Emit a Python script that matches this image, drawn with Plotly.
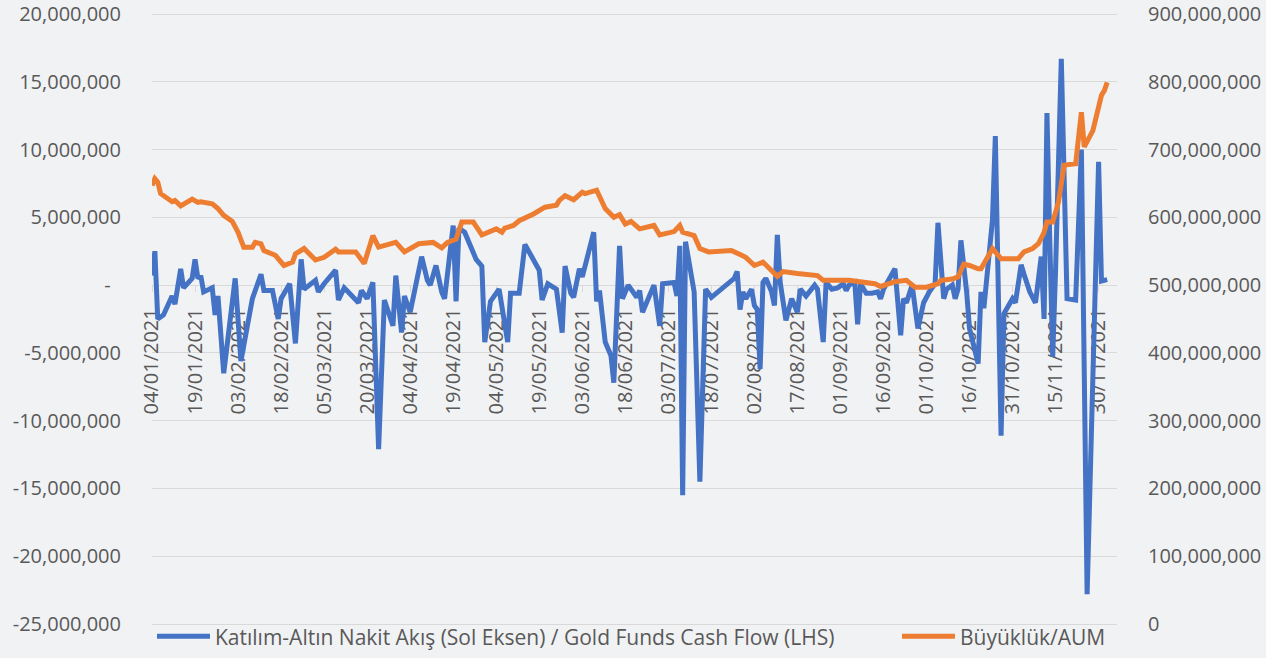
import plotly.graph_objects as go

# ---------------- data ----------------
flow_dates = [
    "2021-01-04", "2021-01-05", "2021-01-06", "2021-01-08", "2021-01-11", "2021-01-12", "2021-01-14", "2021-01-15",
    "2021-01-18", "2021-01-19", "2021-01-20", "2021-01-21", "2021-01-22", "2021-01-25", "2021-01-26", "2021-01-27",
    "2021-01-29", "2021-02-02", "2021-02-04", "2021-02-08", "2021-02-11", "2021-02-12", "2021-02-15", "2021-02-17",
    "2021-02-18", "2021-02-21", "2021-02-23", "2021-02-25", "2021-02-26", "2021-03-02", "2021-03-03", "2021-03-05",
    "2021-03-09", "2021-03-10", "2021-03-12", "2021-03-15", "2021-03-17", "2021-03-18", "2021-03-20", "2021-03-22",
    "2021-03-24", "2021-03-26", "2021-03-29", "2021-03-30", "2021-04-01", "2021-04-02", "2021-04-04", "2021-04-08",
    "2021-04-10", "2021-04-11", "2021-04-13", "2021-04-15", "2021-04-16", "2021-04-19", "2021-04-20", "2021-04-21",
    "2021-04-23", "2021-04-27", "2021-04-29", "2021-04-30", "2021-05-02", "2021-05-05", "2021-05-08", "2021-05-09",
    "2021-05-12", "2021-05-14", "2021-05-19", "2021-05-20", "2021-05-22", "2021-05-25", "2021-05-27", "2021-05-28",
    "2021-05-30", "2021-05-31", "2021-06-02", "2021-06-03", "2021-06-07", "2021-06-08", "2021-06-09", "2021-06-11",
    "2021-06-13", "2021-06-14", "2021-06-16", "2021-06-17", "2021-06-19", "2021-06-22", "2021-06-23", "2021-06-24",
    "2021-06-28", "2021-06-30", "2021-07-01", "2021-07-05", "2021-07-06", "2021-07-07", "2021-07-08", "2021-07-09",
    "2021-07-12", "2021-07-14", "2021-07-16", "2021-07-18", "2021-07-26", "2021-07-27", "2021-07-28", "2021-07-29",
    "2021-07-30", "2021-08-01", "2021-08-02", "2021-08-03", "2021-08-04", "2021-08-05", "2021-08-06", "2021-08-08",
    "2021-08-09", "2021-08-10", "2021-08-11", "2021-08-13", "2021-08-14", "2021-08-15", "2021-08-17", "2021-08-18",
    "2021-08-20", "2021-08-22", "2021-08-23", "2021-08-24", "2021-08-26", "2021-08-27", "2021-08-29", "2021-08-31",
    "2021-09-02", "2021-09-03", "2021-09-04", "2021-09-06", "2021-09-07", "2021-09-08", "2021-09-10", "2021-09-12",
    "2021-09-14", "2021-09-15", "2021-09-16", "2021-09-20", "2021-09-22", "2021-09-23", "2021-09-24", "2021-09-26",
    "2021-09-27", "2021-09-28", "2021-09-30", "2021-10-02", "2021-10-04", "2021-10-05", "2021-10-07", "2021-10-08",
    "2021-10-10", "2021-10-11", "2021-10-12", "2021-10-13", "2021-10-15", "2021-10-16", "2021-10-19", "2021-10-20",
    "2021-10-21", "2021-10-23", "2021-10-24", "2021-10-25", "2021-10-27", "2021-10-28", "2021-10-30", "2021-10-31",
    "2021-11-01", "2021-11-03", "2021-11-04", "2021-11-05", "2021-11-06", "2021-11-08", "2021-11-10", "2021-11-11",
    "2021-11-12", "2021-11-13", "2021-11-14", "2021-11-15", "2021-11-17", "2021-11-19", "2021-11-22", "2021-11-24",
    "2021-11-26", "2021-11-30", "2021-12-01", "2021-12-03",
]
cash_flow = [
    0.7e6, 2.5e6, -2.5e6, -2.2e6, -0.8e6, -1.4e6, 1.2e6, -0.2e6,
    0.5e6, 1.9e6, 0.5e6, 0.7e6, -0.5e6, -0.2e6, -2.2e6, -0.8e6,
    -6.5e6, 0.5e6, -5.6e6, -1.0e6, 0.8e6, -0.4e6, -0.4e6, -2.5e6,
    -1.0e6, 0.1e6, -4.3e6, 1.9e6, -0.3e6, 0.35e6, -0.5e6, 0.1e6,
    1.1e6, -1.1e6, -0.2e6, -0.8e6, -1.3e6, -0.4e6, -1.0e6, 0.2e6,
    -12.1e6, -1.1e6, -3.0e6, 0.7e6, -3.5e6, -0.8e6, -2.0e6, 2.1e6,
    0.35e6, 0.0, 1.45e6, -0.5e6, -1.0e6, 4.4e6, -1.2e6, 4.2e6,
    3.9e6, 1.9e6, 1.4e6, -4.2e6, -1.2e6, -0.3e6, -4.2e6, -0.6e6,
    -0.6e6, 3.0e6, 1.1e6, -1.1e6, 0.1e6, -0.3e6, -3.5e6, 1.4e6,
    -0.6e6, -0.9e6, 1.2e6, 0.6e6, 3.9e6, -1.2e6, -0.4e6, -4.2e6,
    -5.2e6, -7.2e6, 2.9e6, -1.0e6, 0.0, -0.9e6, -0.4e6, -2.0e6,
    0.0, -3.0e6, 0.1e6, 0.2e6, -0.8e6, 2.9e6, -15.5e6, 3.2e6,
    -0.5e6, -14.5e6, -0.3e6, -0.9e6, 0.5e6, 1.0e6, -1.8e6, -0.5e6,
    -1.0e6, -0.3e6, -1.5e6, -1.8e6, -6.2e6, 0.2e6, 0.5e6, -0.5e6,
    -1.5e6, 3.7e6, 0.2e6, -2.6e6, -1.8e6, -1.0e6, -2.0e6, -0.3e6,
    -0.8e6, -0.3e6, 0.0, -0.3e6, -4.2e6, 0.2e6, -0.3e6, -0.2e6,
    0.1e6, -0.4e6, 0.0, 0.2e6, -2.9e6, 0.1e6, -0.6e6, -0.6e6,
    -0.5e6, -1.0e6, -0.3e6, 1.2e6, -3.7e6, -1.0e6, -1.3e6, 0.0,
    -1.8e6, -3.2e6, -1.3e6, -0.5e6, 0.1e6, 4.6e6, -1.0e6, -0.3e6,
    0.0, -1.0e6, -0.3e6, 3.3e6, -0.5e6, -3.2e6, -5.8e6, -0.5e6,
    -1.7e6, 2.1e6, 4.8e6, 11.0e6, -11.1e6, -2.1e6, -1.3e6, -1.0e6,
    -1.3e6, 1.5e6, 0.8e6, 0.0, -0.5e6, -1.3e6, 2.1e6, -2.5e6,
    12.7e6, 3.2e6, -5.3e6, 1.1e6, 16.7e6, -1.0e6, -1.1e6, 10.0e6,
    -22.8e6, 9.1e6, 0.3e6, 0.4e6,
]

aum_dates = [
    "2021-01-04", "2021-01-05", "2021-01-06", "2021-01-07", "2021-01-11", "2021-01-12", "2021-01-14", "2021-01-18",
    "2021-01-20", "2021-01-21", "2021-01-25", "2021-01-27", "2021-01-29", "2021-02-01", "2021-02-03", "2021-02-05",
    "2021-02-08", "2021-02-09", "2021-02-11", "2021-02-12", "2021-02-16", "2021-02-19", "2021-02-22", "2021-02-23",
    "2021-02-26", "2021-03-02", "2021-03-05", "2021-03-09", "2021-03-10", "2021-03-16", "2021-03-19", "2021-03-22",
    "2021-03-24", "2021-03-30", "2021-04-02", "2021-04-07", "2021-04-12", "2021-04-15", "2021-04-17", "2021-04-20",
    "2021-04-22", "2021-04-26", "2021-04-29", "2021-05-04", "2021-05-06", "2021-05-07", "2021-05-10", "2021-05-12",
    "2021-05-17", "2021-05-21", "2021-05-25", "2021-05-26", "2021-05-28", "2021-05-31", "2021-06-03", "2021-06-04",
    "2021-06-08", "2021-06-11", "2021-06-14", "2021-06-16", "2021-06-18", "2021-06-20", "2021-06-23", "2021-06-28",
    "2021-06-30", "2021-07-05", "2021-07-07", "2021-07-08", "2021-07-12", "2021-07-14", "2021-07-17", "2021-07-25",
    "2021-07-28", "2021-07-30", "2021-08-02", "2021-08-05", "2021-08-10", "2021-08-12", "2021-08-17", "2021-08-24",
    "2021-08-26", "2021-09-04", "2021-09-13", "2021-09-15", "2021-09-20", "2021-09-24", "2021-09-27", "2021-10-01",
    "2021-10-05", "2021-10-06", "2021-10-10", "2021-10-12", "2021-10-14", "2021-10-16", "2021-10-19", "2021-10-20",
    "2021-10-22", "2021-10-24", "2021-10-27", "2021-11-02", "2021-11-04", "2021-11-07", "2021-11-09", "2021-11-11",
    "2021-11-12", "2021-11-14", "2021-11-16", "2021-11-18", "2021-11-22", "2021-11-24", "2021-11-25", "2021-11-28",
    "2021-12-01", "2021-12-02", "2021-12-03",
]
aum = [
    647e6, 657e6, 652e6, 635e6, 623e6, 625e6, 617e6, 627e6,
    622e6, 623e6, 620e6, 613e6, 603e6, 594e6, 578e6, 556e6,
    556e6, 563e6, 561e6, 551e6, 544e6, 529e6, 534e6, 546e6,
    554e6, 537e6, 541e6, 553e6, 549e6, 549e6, 532e6, 573e6,
    556e6, 563e6, 549e6, 561e6, 563e6, 555e6, 563e6, 568e6,
    593e6, 593e6, 574e6, 583e6, 578e6, 584e6, 588e6, 595e6,
    605e6, 615e6, 618e6, 625e6, 632e6, 626e6, 637e6, 635e6,
    640e6, 613e6, 600e6, 604e6, 590e6, 594e6, 583e6, 588e6,
    574e6, 579e6, 588e6, 578e6, 573e6, 554e6, 549e6, 551e6,
    545e6, 541e6, 529e6, 534e6, 513e6, 520e6, 517e6, 514e6,
    507e6, 507e6, 502e6, 498e6, 505e6, 507e6, 497e6, 497e6,
    502e6, 507e6, 509e6, 512e6, 531e6, 529e6, 524e6, 524e6,
    539e6, 554e6, 539e6, 539e6, 549e6, 554e6, 561e6, 578e6,
    593e6, 593e6, 622e6, 677e6, 679e6, 755e6, 704e6, 728e6,
    780e6, 787e6, 799e6,
]

x_tick_dates = [
    "2021-01-04", "2021-01-19", "2021-02-03", "2021-02-18", "2021-03-05", "2021-03-20",
    "2021-04-04", "2021-04-19", "2021-05-04", "2021-05-19", "2021-06-03", "2021-06-18",
    "2021-07-03", "2021-07-18", "2021-08-02", "2021-08-17", "2021-09-01", "2021-09-16",
    "2021-10-01", "2021-10-16", "2021-10-31", "2021-11-15", "2021-11-30",
]
left_tick_values = [20e6, 15e6, 10e6, 5e6, 0, -5e6, -10e6, -15e6, -20e6, -25e6]
left_tick_labels = ["20,000,000", "15,000,000", "10,000,000", "5,000,000", "-\u00a0\u00a0",
                    "-5,000,000", "-10,000,000", "-15,000,000", "-20,000,000", "-25,000,000"]
right_tick_values = [0, 100e6, 200e6, 300e6, 400e6, 500e6, 600e6, 700e6, 800e6, 900e6]

series_names = ["Katılım-Altın Nakit Akış (Sol Eksen) / Gold Funds Cash Flow (LHS)", "Büyüklük/AUM"]

# ---------------- figure ----------------
FONT = "Open Sans"
TXT = "#595959"
GRID = "#D9D9D9"
BG = "#F1F2F4"

# axis ranges padded by 4 px on each end so the edge gridlines stay visible
Y1_RANGE = [-25.295e6, 20.295e6]
Y2_RANGE = [-5.9e6, 905.9e6]

fig = go.Figure()
fig.add_trace(go.Scatter(
    x=flow_dates, y=cash_flow, mode="lines", name=series_names[0],
    line=dict(color="#4472C4", width=5), yaxis="y", xaxis="x", legend="legend",
))
fig.add_trace(go.Scatter(
    x=aum_dates, y=aum, mode="lines", name=series_names[1],
    line=dict(color="#ED7D31", width=5), yaxis="y2", xaxis="x", legend="legend2",
))

legend_style = dict(
    orientation="h", yanchor="middle", y=-0.014, xanchor="left",
    font=dict(family=FONT, size=21, color=TXT),
    bgcolor="rgba(0,0,0,0)", itemwidth=53,
)

fig.update_layout(
    width=1266, height=658,
    margin=dict(l=152, r=149, t=10, b=30, autoexpand=False),
    paper_bgcolor=BG, plot_bgcolor=BG,
    font=dict(family=FONT, size=20, color=TXT),
    showlegend=True,
    legend=dict(legend_style, x=0.0),
    legend2=dict(legend_style, x=0.772),
    xaxis=dict(
        type="date",
        range=["2021-01-04", "2021-12-06 10:00"],
        anchor="free", position=(0 - Y1_RANGE[0]) / (Y1_RANGE[1] - Y1_RANGE[0]),
        tickvals=x_tick_dates, tickformat="%d/%m/%Y", tickangle=-90,
        ticks="outside", ticklen=6, tickcolor=GRID, tickwidth=1.3,
        showline=True, linecolor=GRID, linewidth=1.3,
        showgrid=False, zeroline=False, automargin=False,
        tickfont=dict(family=FONT, size=20, color=TXT),
        ticklabelstandoff=8,
        layer="below traces",
    ),
    yaxis=dict(
        range=Y1_RANGE,
        tickvals=left_tick_values, ticktext=left_tick_labels,
        showgrid=True, gridcolor=GRID, gridwidth=1.3,
        zeroline=False, showline=False, ticks="", automargin=False,
        tickfont=dict(family=FONT, size=20, color=TXT),
        ticklabelstandoff=30, ticklabeloverflow="allow",
    ),
    yaxis2=dict(
        range=Y2_RANGE, tickvals=right_tick_values, tickformat=",",
        overlaying="y", side="right", anchor="x", automargin=False,
        showgrid=False, zeroline=False, showline=False, ticks="",
        tickfont=dict(family=FONT, size=20, color=TXT),
        ticklabelstandoff=30, ticklabeloverflow="allow",
    ),
)

fig.write_html(
    "out.html",
    config={"displayModeBar": False},
    post_script="document.body.style.margin='0px';",
)
